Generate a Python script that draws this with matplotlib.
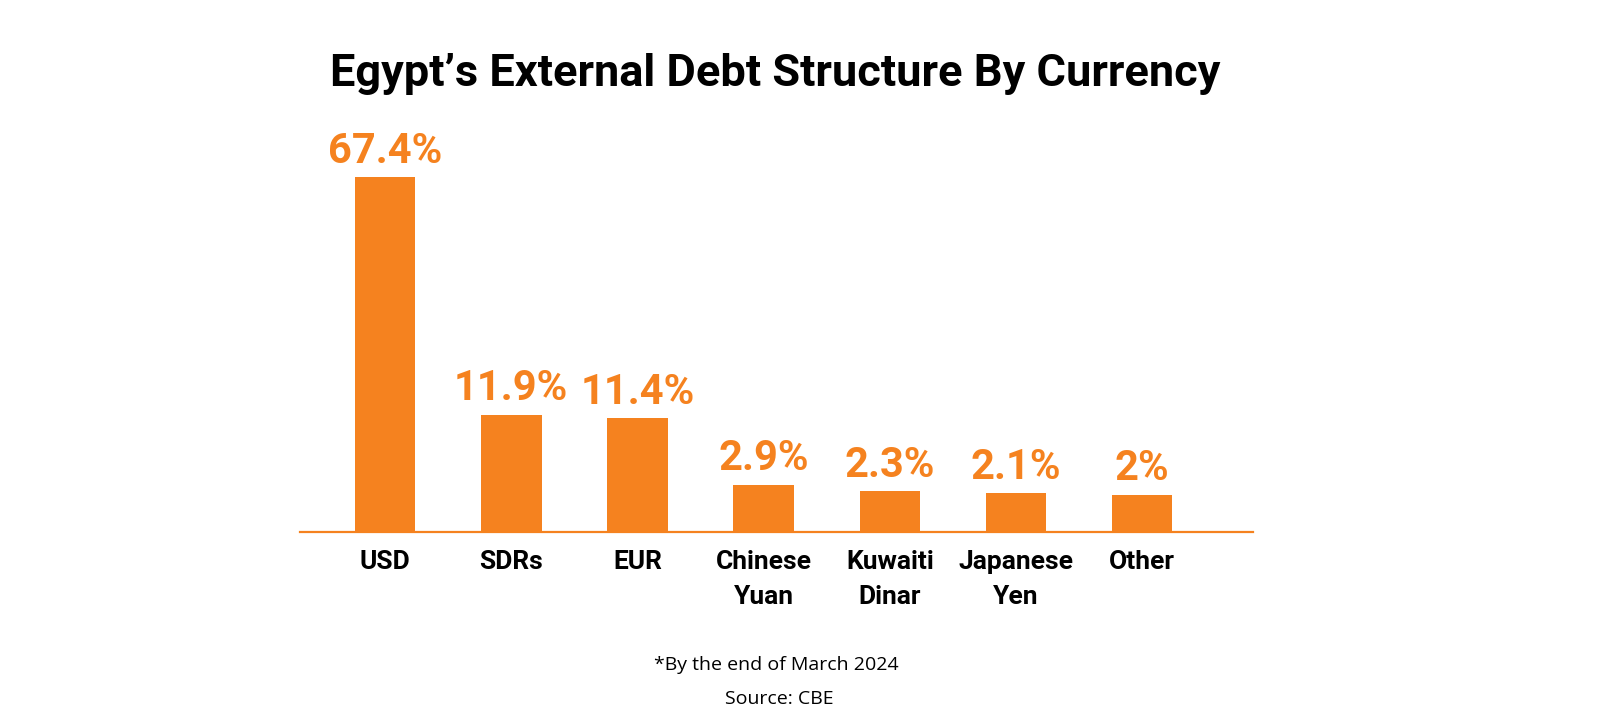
import numpy as np
import matplotlib
matplotlib.use('Agg')
import matplotlib.pyplot as plt

# Data
currencies = ['USD', 'SDRs', 'EUR', 'Chinese\nYuan', 'Kuwaiti\nDinar', 'Japanese\nYen', 'Other']
shares = [67.4, 11.9, 11.4, 2.9, 2.3, 2.1, 2.0]
share_labels = ['67.4%', '11.9%', '11.4%', '2.9%', '2.3%', '2.1%', '2%']

orange = '#F5821F'
title_font = 'Roboto'
body_font = 'Open Sans'

# the source chart squashes the bars; a power scale gets close to it
p = 0.64
def fwd(v):
    return np.sign(v) * np.abs(v) ** p
def inv(v):
    return np.sign(v) * np.abs(v) ** (1 / p)

fig = plt.figure(figsize=(16, 7.2), dpi=100)
ax = fig.add_axes([300 / 1600, 188 / 720, 953 / 1600, 396 / 720])
ax.set_yscale('function', functions=(fwd, inv))

x = np.arange(len(currencies))
bars = ax.bar(x, shares, width=0.48, color=orange)

for b, lab in zip(bars, share_labels):
    ax.annotate(lab, (b.get_x() + b.get_width() / 2, b.get_height()),
                xytext=(0, 4), textcoords='offset points',
                ha='center', va='bottom', color=orange,
                fontsize=30, fontweight='bold', family=title_font)

ax.set_xlim(-0.674, 6.878)
ax.set_ylim(0, 80)
ax.set_xticks(x)
ax.set_xticklabels(currencies, fontsize=19, fontweight='bold',
                   family=title_font, linespacing=1.6)
ax.tick_params(axis='x', length=0, pad=13)
ax.set_yticks([])
for s in ['top', 'left', 'right']:
    ax.spines[s].set_visible(False)
ax.spines['bottom'].set_color(orange)
ax.spines['bottom'].set_linewidth(1.6)

fig.text(775 / 1600, 1 - 74 / 720, 'Egypt\u2019s External Debt Structure By Currency',
         ha='center', va='center', fontsize=32.5, fontweight='bold', family=title_font)
fig.text(776 / 1600, 1 - 665 / 720, '*By the end of March 2024',
         ha='center', va='center', fontsize=14, family=body_font)
fig.text(779 / 1600, 1 - 699 / 720, 'Source: CBE',
         ha='center', va='center', fontsize=14, family=body_font)

fig.savefig('out.png', dpi=100, facecolor='white')
